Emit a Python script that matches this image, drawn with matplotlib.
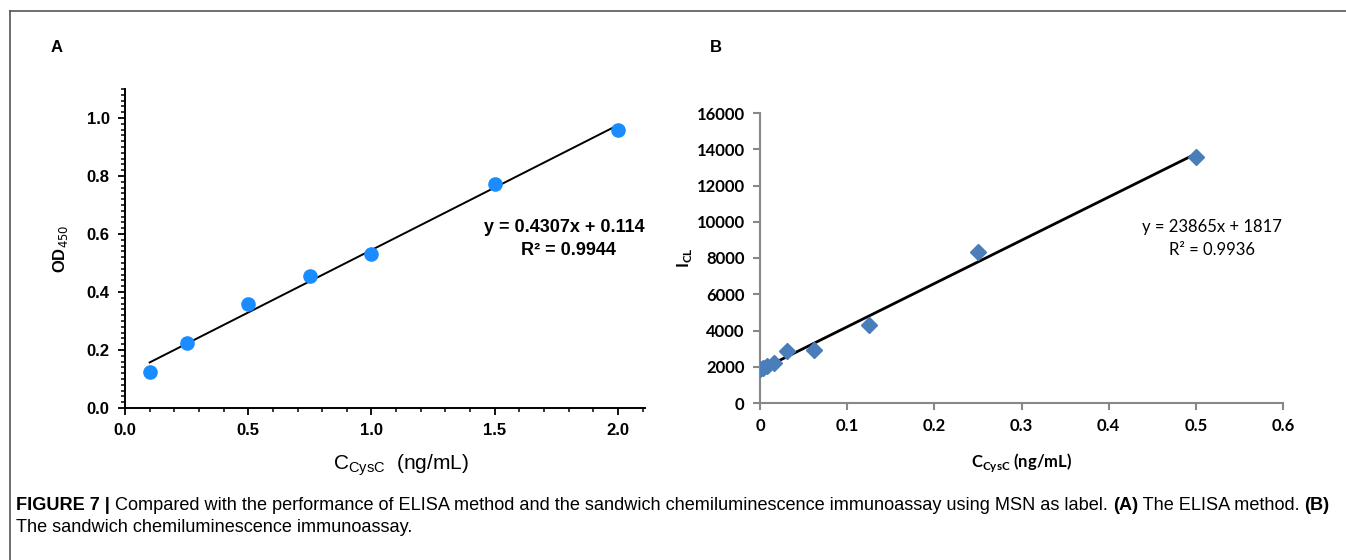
import numpy as np
import matplotlib
matplotlib.use("Agg")
import matplotlib.pyplot as plt
from matplotlib.ticker import MultipleLocator, FuncFormatter
from matplotlib.lines import Line2D

# panel A: ELISA
conc_a = [0.1, 0.25, 0.5, 0.75, 1.0, 1.5, 2.0]
od_a = [0.123, 0.224, 0.357, 0.454, 0.530, 0.774, 0.958]
slope_a, icpt_a = 0.4307, 0.114
eq_a = "y = 0.4307x + 0.114"
r2_a = "R² = 0.9944"

# panel B: chemiluminescence
conc_b = [0.0, 0.0039, 0.0078, 0.0156, 0.03125, 0.0625, 0.125, 0.25, 0.5]
icl_b = [1900, 1950, 2050, 2200, 2850, 2950, 4300, 8350, 13550]
slope_b, icpt_b = 23865, 1817
eq_b = "y = 23865x + 1817"
r2_b = "R² = 0.9936"

# caption pieces (text, bold)
caption1 = [("FIGURE 7 | ", True),
            ("Compared with the performance of ELISA method and the sandwich chemiluminescence immunoassay using MSN as label. ", False),
            ("(A)", True), (" The ELISA method. ", False), ("(B)", True)]
caption2 = "The sandwich chemiluminescence immunoassay."

W, H = 1346, 560
fig = plt.figure(figsize=(W / 100, H / 100), dpi=100)

# frame (top + left)
fig.add_artist(Line2D([10 / W, 1], [1 - 11 / H, 1 - 11 / H], color="#555555", lw=1.2))
fig.add_artist(Line2D([10 / W, 10 / W], [0, 1 - 11 / H], color="#555555", lw=1.2))

fig.text(57 / W, 1 - 47 / H, "A", fontsize=12, fontweight="bold", family="Liberation Sans", ha="center", va="center")
fig.text(716 / W, 1 - 47 / H, "B", fontsize=12, fontweight="bold", family="Liberation Sans", ha="center", va="center")

########## A ##########
axa = fig.add_axes([125 / W, 1 - 408 / H, 520 / W, 319 / H])
axa.plot(conc_a, od_a, "o", color="#1a8cff", ms=9.5, zorder=3)
xa = np.array([conc_a[0], conc_a[-1]])
axa.plot(xa, slope_a * xa + icpt_a, color="black", lw=1.4, zorder=2)
axa.set_xlim(0, 2.11)
axa.set_ylim(0, 1.1)
axa.xaxis.set_major_locator(MultipleLocator(0.5))
axa.xaxis.set_minor_locator(MultipleLocator(0.1))
axa.yaxis.set_major_locator(MultipleLocator(0.2))
axa.yaxis.set_minor_locator(MultipleLocator(0.02))
for s in ["top", "right"]:
    axa.spines[s].set_visible(False)
for s in ["left", "bottom"]:
    axa.spines[s].set_linewidth(1.4)
axa.tick_params(which="major", direction="out", length=5, width=1.3, labelsize=12, pad=6)
axa.tick_params(which="minor", direction="out", length=3, width=1.1)
for lab in axa.get_xticklabels() + axa.get_yticklabels():
    lab.set_fontweight("bold")
    lab.set_family("Liberation Sans")
axa.set_ylabel("OD$_{450}$", fontsize=12, fontweight="bold", family="Liberation Sans", labelpad=12)
axa.set_xlabel(r"C$_{\mathregular{CysC}}$  (ng/mL)", fontsize=15, family="Liberation Sans")
axa.xaxis.set_label_coords(0.53, -0.14)
axa.text(2.11, 0.622, eq_a, fontsize=13, fontweight="bold", family="Liberation Sans", ha="right", va="center")
axa.text(1.8, 0.543, r2_a, fontsize=13, fontweight="bold", family="Liberation Sans", ha="center", va="center")

########## B ##########
axb = fig.add_axes([760 / W, 1 - 403 / H, 523 / W, 290 / H])
axb.plot(conc_b, icl_b, "D", color="#4a7ebb", ms=8, zorder=3)
xb = np.array([conc_b[0], conc_b[-1]])
axb.plot(xb, slope_b * xb + icpt_b, color="black", lw=2, zorder=2)
axb.set_xlim(0, 0.6)
axb.set_ylim(0, 16000)
axb.xaxis.set_major_locator(MultipleLocator(0.1))
axb.yaxis.set_major_locator(MultipleLocator(2000))
axb.xaxis.set_major_formatter(FuncFormatter(lambda v, p: "0" if abs(v) < 1e-9 else "%.1f" % v))
for s in ["top", "right"]:
    axb.spines[s].set_visible(False)
for s in ["left", "bottom"]:
    axb.spines[s].set_linewidth(1.5)
    axb.spines[s].set_color("#888888")
axb.tick_params(direction="out", length=5, width=1.5, color="#888888", labelsize=12, pad=6)
for lab in axb.get_xticklabels() + axb.get_yticklabels():
    lab.set_fontweight("bold")
    lab.set_family("Lato")
axb.set_ylabel("I$_{\mathregular{CL}}$", fontsize=12, fontweight="bold", family="Lato", labelpad=2)
axb.set_xlabel(r"C$_{\mathregular{CysC}}$ (ng/mL)", fontsize=12, fontweight="bold", family="Lato", labelpad=12)
axb.text(0.519, 9700, eq_b, fontsize=12, family="Lato", ha="center", va="center")
axb.text(0.519, 8450, r2_b, fontsize=12, family="Lato", ha="center", va="center")

# caption
fig.canvas.draw()
r = fig.canvas.get_renderer()
x = 16
for txt, bold in caption1:
    t = fig.text(x / W, 1 - 505 / H, txt, fontsize=13.1, fontweight="bold" if bold else "normal",
                 family="Liberation Sans", va="center")
    x = t.get_window_extent(renderer=r).x1
fig.text(16 / W, 1 - 528 / H, caption2, fontsize=13.1, family="Liberation Sans", va="center")

fig.savefig("out.png", dpi=100)
